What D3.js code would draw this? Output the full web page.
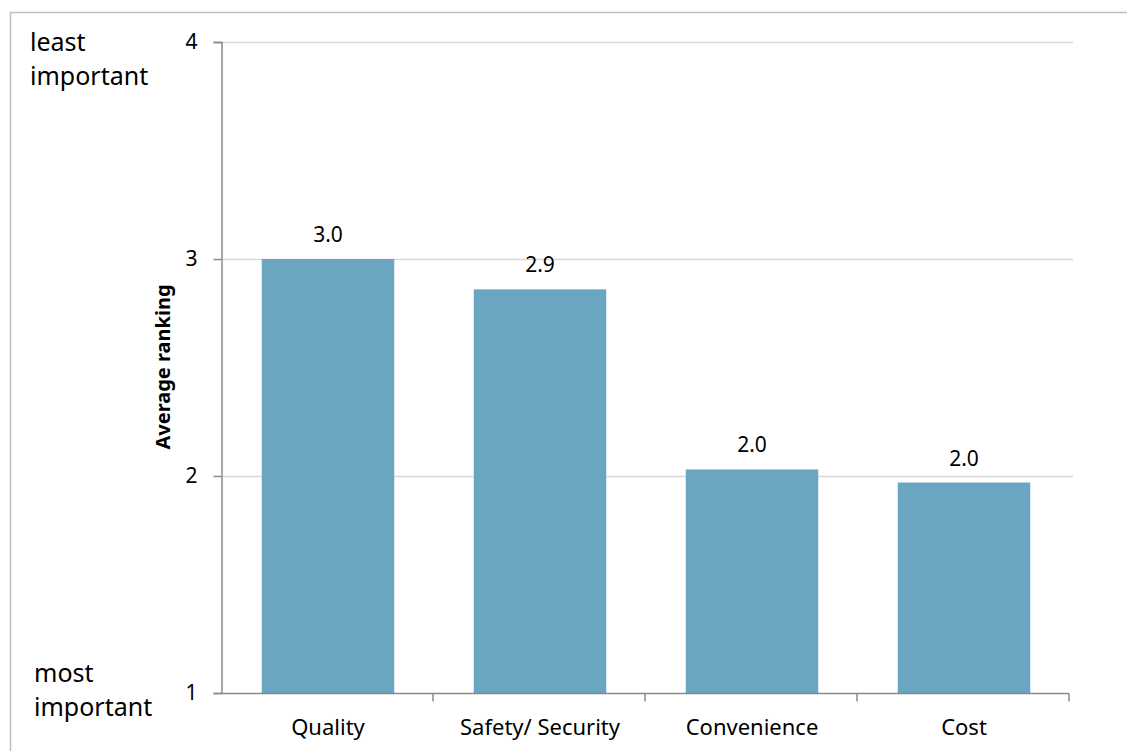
<!DOCTYPE html>
<html>
<head>
<meta charset="utf-8">
<script src="https://cdn.jsdelivr.net/npm/d3@7"></script>
<style>
  html, body { margin: 0; padding: 0; background: #ffffff; }
  svg { display: block; }
</style>
</head>
<body>
<svg id="chart" width="1127" height="751"></svg>
<script>
// Average ranking per factor (1 = most important, 4 = least important)
const categories = ["Quality", "Safety/ Security", "Convenience", "Cost"];
const averageRanking = [3.00, 2.86, 2.03, 1.97];
const yTicks = [1, 2, 3, 4];

const svg = d3.select("#chart");
const font = "'Noto Sans', 'Open Sans', sans-serif";

// outer frame
svg.append("rect")
  .attr("x", 10.5).attr("y", 12.5)
  .attr("width", 1130).attr("height", 760)
  .attr("fill", "none").attr("stroke", "#bfbfbf").attr("stroke-width", 1.5);

const plot = { left: 221, right: 1069, top: 42, bottom: 693 };

const x = d3.scaleBand()
  .domain(categories)
  .range([plot.left, plot.right])
  .paddingInner(0.375)
  .paddingOuter(0.1875);

const xAxisScale = d3.scaleBand().domain(categories).range([plot.left, plot.right]);

const y = d3.scaleLinear().domain([1, 4]).range([plot.bottom, plot.top]);

// horizontal gridlines
svg.append("g")
  .selectAll("line")
  .data(yTicks.filter(t => t > 1))
  .join("line")
  .attr("x1", plot.left).attr("x2", plot.right + 4)
  .attr("y1", d => Math.round(y(d)) + 0.5).attr("y2", d => Math.round(y(d)) + 0.5)
  .attr("stroke", "#d9d9d9").attr("stroke-width", 1.5);

// bars
svg.append("g")
  .selectAll("rect")
  .data(categories)
  .join("rect")
  .attr("x", d => x(d) + 1)
  .attr("width", x.bandwidth())
  .attr("y", (d, i) => y(averageRanking[i]))
  .attr("height", (d, i) => y(1) - y(averageRanking[i]))
  .attr("fill", "#6aa5c1");

// value labels
svg.append("g")
  .selectAll("text")
  .data(categories)
  .join("text")
  .attr("x", d => x(d) + 1 + x.bandwidth() / 2)
  .attr("y", (d, i) => y(averageRanking[i]) - 17)
  .attr("text-anchor", "middle")
  .attr("font-family", font)
  .attr("font-size", 21)
  .attr("fill", "#000")
  .text((d, i) => averageRanking[i].toFixed(1));

// y axis
const yAxis = svg.append("g")
  .attr("transform", `translate(${plot.left + 0.5},0)`)
  .call(d3.axisLeft(y).tickValues(yTicks).tickFormat(d3.format("d")).tickSize(8).tickPadding(16));
yAxis.select(".domain").attr("stroke", "#898989").attr("stroke-width", 1.5);
yAxis.selectAll(".tick line").attr("stroke", "#898989").attr("stroke-width", 1.5);
yAxis.selectAll(".tick text")
  .attr("font-family", font).attr("font-size", 21).attr("fill", "#000");

// x axis with ticks on category boundaries
const xAxis = svg.append("g")
  .attr("transform", `translate(0,${plot.bottom + 0.5})`);
xAxis.append("line")
  .attr("x1", plot.left).attr("x2", plot.right)
  .attr("stroke", "#898989").attr("stroke-width", 1.5);
const boundaries = categories.map(c => xAxisScale(c)).concat([plot.right]).slice(1);
xAxis.selectAll("line.tick")
  .data(boundaries)
  .join("line")
  .attr("class", "tick")
  .attr("x1", d => d).attr("x2", d => d)
  .attr("y1", 0).attr("y2", 8)
  .attr("stroke", "#898989").attr("stroke-width", 1.5);
xAxis.selectAll("text")
  .data(categories)
  .join("text")
  .attr("x", d => xAxisScale(d) + xAxisScale.bandwidth() / 2 + 1)
  .attr("y", 41)
  .attr("text-anchor", "middle")
  .attr("font-family", font)
  .attr("font-size", 22)
  .attr("fill", "#000")
  .text(d => d);

// y axis title
svg.append("text")
  .attr("transform", `translate(170,367) rotate(-90)`)
  .attr("text-anchor", "middle")
  .attr("font-family", font)
  .attr("font-size", 20)
  .attr("font-weight", "bold")
  .attr("fill", "#000")
  .text("Average ranking");

// scale end annotations
const ends = [
  { lines: ["least", "important"], x: 30, y: 51 },
  { lines: ["most", "important"], x: 34, y: 682 }
];
ends.forEach(e => {
  const t = svg.append("text")
    .attr("font-family", font)
    .attr("font-size", 25)
    .attr("fill", "#000");
  e.lines.forEach((l, i) => {
    t.append("tspan").attr("x", e.x).attr("y", e.y + i * 34).text(l);
  });
});
</script>
</body>
</html>
